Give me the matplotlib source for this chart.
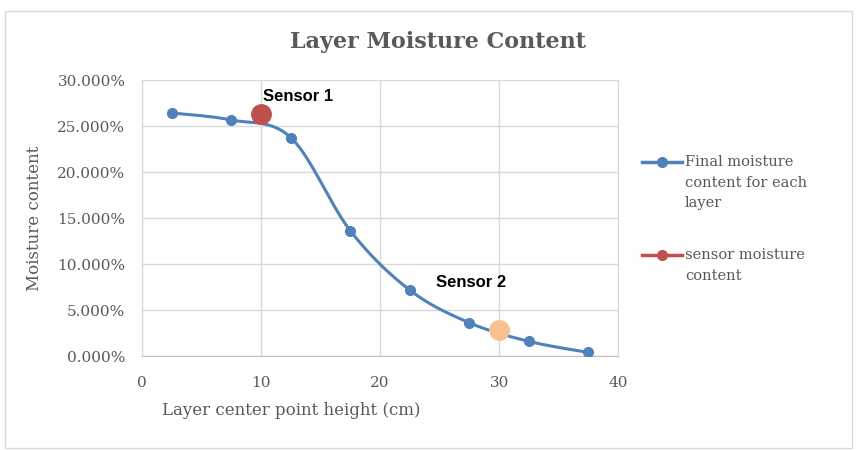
import numpy as np
import matplotlib
matplotlib.use('Agg')
from matplotlib import pyplot as plt
from matplotlib.ticker import FuncFormatter
from matplotlib.patches import Rectangle
from matplotlib.lines import Line2D

# layer data
height = [2.5, 7.5, 12.5, 17.5, 22.5, 27.5, 32.5, 37.5]
moisture = [0.2643, 0.2567, 0.2375, 0.1363, 0.0719, 0.0365, 0.0163, 0.0043]
sensor_height = [10, 30]
sensor_moisture = [0.2628, 0.0286]
sensor_names = ['Sensor 1', 'Sensor 2']
sensor_colors = ['#C0504D', '#FAC090']
legend_labels = ['Final moisture\ncontent for each\nlayer', 'sensor moisture\ncontent']

blue = '#4F81BD'
gray = '#595959'
serif = 'DejaVu Serif'


def smooth(x, y, n=30):
	# Excel-like smoothed line: cubic bezier with catmull-rom tangents
	x = np.asarray(x, float)
	y = np.asarray(y, float)
	px = np.concatenate([[x[0]], x, [x[-1]]])
	py = np.concatenate([[y[0]], y, [y[-1]]])
	xs, ys = [], []
	t = np.linspace(0, 1, n)
	for i in range(1, len(px) - 2):
		p0 = np.array([px[i], py[i]])
		p3 = np.array([px[i + 1], py[i + 1]])
		p1 = p0 + (np.array([px[i + 1], py[i + 1]]) - np.array([px[i - 1], py[i - 1]])) / 6
		p2 = p3 - (np.array([px[i + 2], py[i + 2]]) - np.array([px[i], py[i]])) / 6
		b = ((1 - t) ** 3)[:, None] * p0 + (3 * (1 - t) ** 2 * t)[:, None] * p1 \
			+ (3 * (1 - t) * t ** 2)[:, None] * p2 + (t ** 3)[:, None] * p3
		xs.extend(b[:, 0])
		ys.extend(b[:, 1])
	return xs, ys


fig = plt.figure(figsize=(8.61, 4.5), dpi=100)
fig.patches.append(Rectangle((0.006, 0.004), 0.984, 0.972, transform=fig.transFigure,
							fill=False, edgecolor='#D9D9D9', linewidth=1))
ax = fig.add_axes([0.165, 0.208, 0.553, 0.614])

sx, sy = smooth(height, moisture)
ax.plot(sx, sy, color=blue, linewidth=2.2, zorder=3)
ax.plot(height, moisture, 'o', color=blue, markersize=7, zorder=4)
for xh, ym, c in zip(sensor_height, sensor_moisture, sensor_colors):
	ax.plot(xh, ym, 'o', color=c, markersize=14, zorder=5)

ax.text(10.2, 0.2825, sensor_names[0], fontsize=12, fontweight='bold',
		family='Liberation Sans', va='center', ha='left')
ax.text(24.7, 0.0797, sensor_names[1], fontsize=12, fontweight='bold',
		family='Liberation Sans', va='center', ha='left')

ax.set_xlim(0, 40)
ax.set_ylim(0, 0.30)
ax.set_xticks(range(0, 41, 10))
ax.set_yticks(np.arange(0, 0.301, 0.05))
ax.yaxis.set_major_formatter(FuncFormatter(lambda v, p: '%.3f%%' % (v * 100)))
ax.grid(True, color='#D9D9D9', linewidth=1)
ax.set_axisbelow(True)
for s in ax.spines.values():
	s.set_color('#D9D9D9')
ax.spines['bottom'].set_color('#BFBFBF')
ax.tick_params(length=0, labelsize=11, labelcolor=gray)
ax.tick_params(axis='y', pad=12)
ax.tick_params(axis='x', pad=14)
for lab in ax.get_xticklabels() + ax.get_yticklabels():
	lab.set_family(serif)

ax.set_xlabel('Layer center point height (cm)', fontsize=12, color=gray, family=serif)
ax.xaxis.set_label_coords(0.313, -0.165)
ax.set_ylabel('Moisture content', fontsize=12, color=gray, family=serif)
ax.yaxis.set_label_coords(-0.208, 0.5)

fig.text(0.509, 0.907, 'Layer Moisture Content', fontsize=16, fontweight='bold',
		 color=gray, family=serif, ha='center', va='center')

# legend drawn by hand so the marker sits on the first text line
for label, c, ypx in zip(legend_labels, [blue, '#C0504D'], [162, 255]):
	yf = 1 - ypx / 450
	fig.lines.append(Line2D([642 / 861, 682 / 861], [yf, yf], transform=fig.transFigure,
							color=c, linewidth=2.5))
	fig.lines.append(Line2D([662 / 861], [yf], transform=fig.transFigure, marker='o',
							color=c, markersize=7))
	fig.text(685 / 861, yf + 7 / 450, label, fontsize=10.5, color=gray, family=serif,
			 va='top', ha='left', linespacing=1.6)

fig.savefig('out.png', dpi=100)
